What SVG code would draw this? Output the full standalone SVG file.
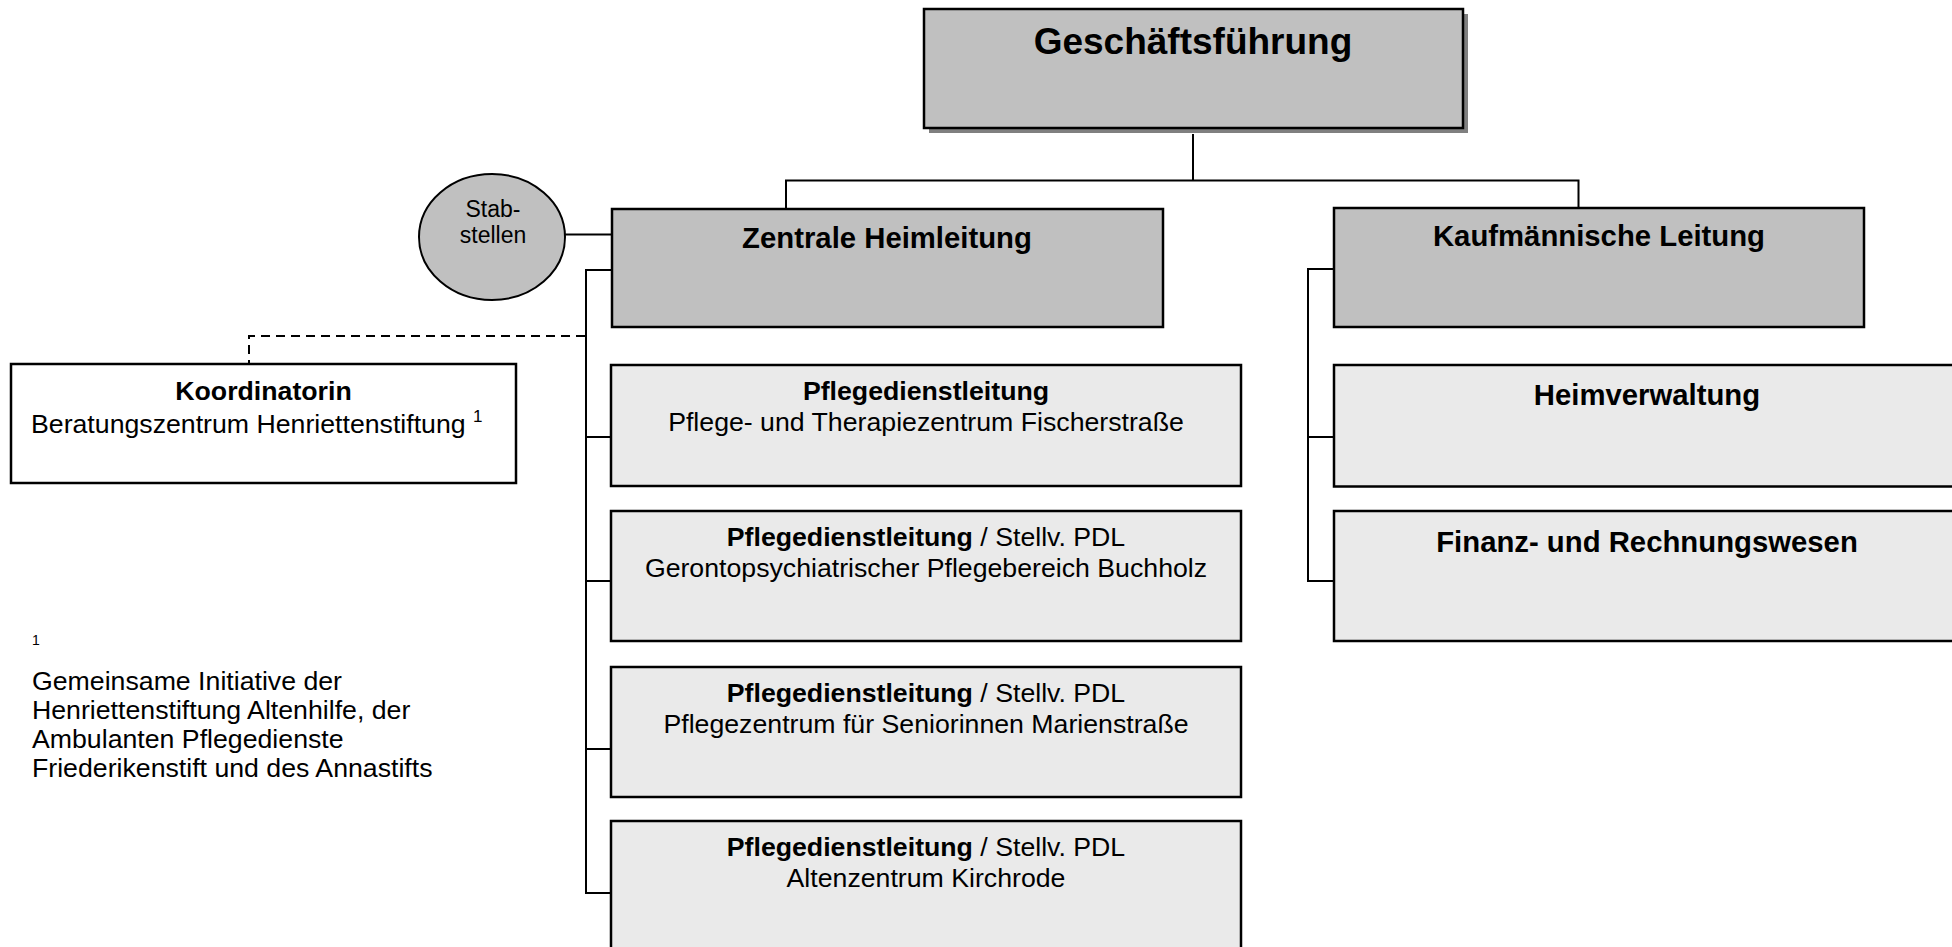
<svg xmlns="http://www.w3.org/2000/svg" width="1952" height="947" viewBox="0 0 1952 947">
<style>
.box{stroke:#000;stroke-width:2.5}
.dark{fill:#c0c0c0}
.light{fill:#eaeaea}
.white{fill:#fff}
.con{stroke:#000;stroke-width:2;fill:none}
.dash{stroke:#000;stroke-width:2;fill:none;stroke-dasharray:9 6}
text{font-family:"Liberation Sans",Arial,sans-serif;fill:#000}
.t1{font-size:37px;font-weight:bold}
.t2{font-size:29.3px;font-weight:bold}
.t3{font-size:26.7px}
.b{font-weight:bold}
.st{font-size:23px}
</style>
<rect width="1952" height="947" fill="#fff"/>
<g id="connectors">
<polyline class="con" points="1193,134 1193,180.5"/>
<polyline class="con" points="786,209 786,180.5 1578.5,180.5 1578.5,208"/>
<polyline class="con" points="565,234.5 612,234.5"/>
<polyline class="con" points="612,270 586,270 586,893 611,893"/>
<polyline class="con" points="586,437 611,437"/>
<polyline class="con" points="586,581 611,581"/>
<polyline class="con" points="586,749 611,749"/>
<polyline class="con" points="1334,269 1308,269 1308,581 1334,581"/>
<polyline class="con" points="1308,437 1334,437"/>
<polyline class="dash" points="585,336 249,336 249,364"/>
</g>
<g id="gf">
<rect x="929" y="14" width="539" height="119" fill="#808080"/>
<rect class="box dark" x="924" y="9" width="539" height="119"/>
<text class="t1" x="1193" y="54" text-anchor="middle">Geschäftsführung</text>
</g>
<g id="stab">
<ellipse class="dark" cx="492" cy="237" rx="73" ry="63" stroke="#000" stroke-width="2"/>
<text class="st" x="493" y="217" text-anchor="middle">Stab-</text>
<text class="st" x="493" y="243" text-anchor="middle">stellen</text>
</g>
<g id="zentrale">
<rect class="box dark" x="612" y="209" width="551" height="118"/>
<text class="t2" x="887" y="248" text-anchor="middle">Zentrale Heimleitung</text>
</g>
<g id="kaufm">
<rect class="box dark" x="1334" y="208" width="530" height="119"/>
<text class="t2" x="1599" y="246" text-anchor="middle">Kaufmännische Leitung</text>
</g>
<g id="koord">
<rect class="box white" x="11" y="364" width="505" height="119"/>
<text class="t3 b" x="263.5" y="400" text-anchor="middle">Koordinatorin</text>
<text class="t3" x="31" y="433">Beratungszentrum Henriettenstiftung <tspan font-size="17" dy="-11">1</tspan></text>
</g>
<g id="pdl1">
<rect class="box light" x="611" y="365" width="630" height="121"/>
<text class="t3" x="926" y="400" text-anchor="middle"><tspan class="b">Pflegedienstleitung</tspan></text>
<text class="t3" x="926" y="431" text-anchor="middle">Pflege- und Therapiezentrum Fischerstraße</text>
</g>
<g id="pdl2">
<rect class="box light" x="611" y="511" width="630" height="130"/>
<text class="t3" x="926" y="546" text-anchor="middle"><tspan class="b">Pflegedienstleitung</tspan> / Stellv. PDL</text>
<text class="t3" x="926" y="577" text-anchor="middle">Gerontopsychiatrischer Pflegebereich Buchholz</text>
</g>
<g id="pdl3">
<rect class="box light" x="611" y="667" width="630" height="130"/>
<text class="t3" x="926" y="702" text-anchor="middle"><tspan class="b">Pflegedienstleitung</tspan> / Stellv. PDL</text>
<text class="t3" x="926" y="733" text-anchor="middle">Pflegezentrum für Seniorinnen Marienstraße</text>
</g>
<g id="pdl4">
<rect class="box light" x="611" y="821" width="630" height="140"/>
<text class="t3" x="926" y="856" text-anchor="middle"><tspan class="b">Pflegedienstleitung</tspan> / Stellv. PDL</text>
<text class="t3" x="926" y="887" text-anchor="middle">Altenzentrum Kirchrode</text>
</g>
<g id="heimverw">
<rect class="box light" x="1334" y="365" width="630" height="121.5"/>
<text class="t2" x="1647" y="404.5" text-anchor="middle">Heimverwaltung</text>
</g>
<g id="finanz">
<rect class="box light" x="1334" y="511" width="630" height="130"/>
<text class="t2" x="1647" y="551.5" text-anchor="middle">Finanz- und Rechnungswesen</text>
</g>
<g id="footnote">
<text x="32" y="645" font-size="14">1</text>
<text class="t3" x="32" y="690">Gemeinsame Initiative der</text>
<text class="t3" x="32" y="719">Henriettenstiftung Altenhilfe, der</text>
<text class="t3" x="32" y="748">Ambulanten Pflegedienste</text>
<text class="t3" x="32" y="777">Friederikenstift und des Annastifts</text>
</g>
</svg>
